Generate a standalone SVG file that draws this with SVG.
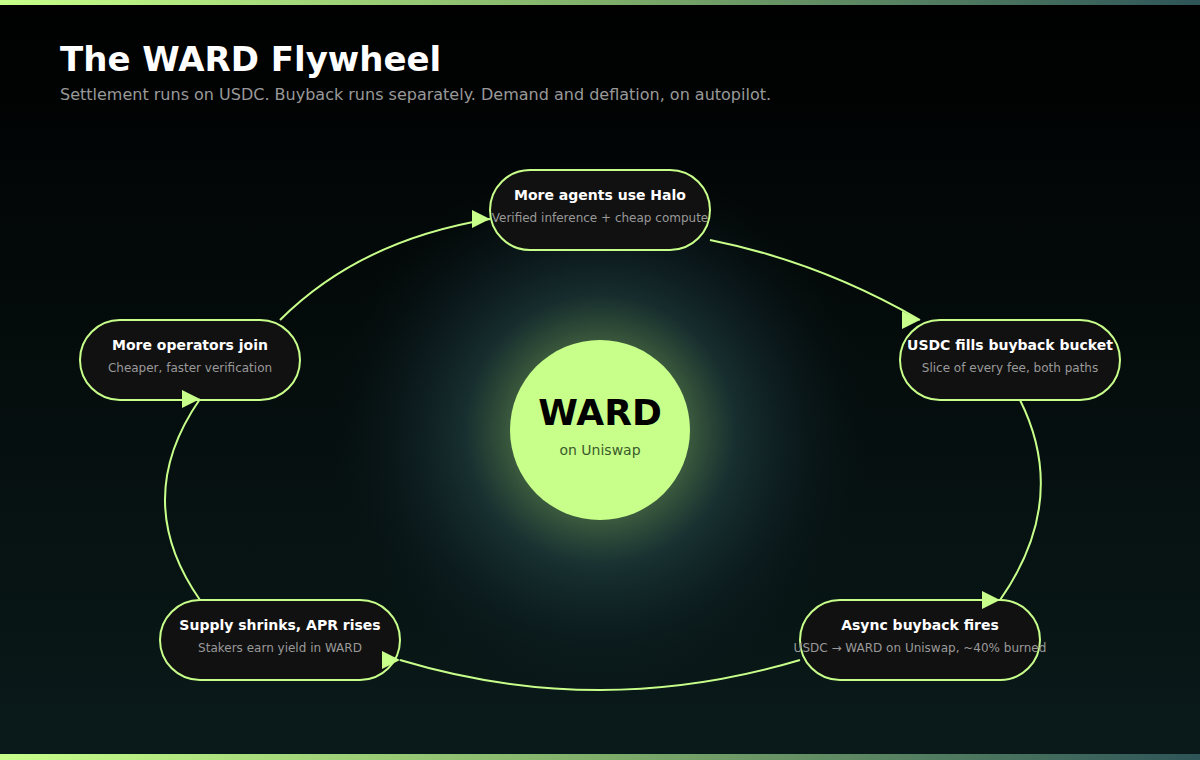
<svg xmlns="http://www.w3.org/2000/svg" width="1200" height="760" viewBox="0 0 1200 760">
<defs>
<linearGradient id="bg" x1="0" y1="0" x2="0" y2="1"><stop offset="0" stop-color="#000000"/><stop offset="1" stop-color="#0a1a1a"/></linearGradient>
<linearGradient id="bar" x1="0" y1="0" x2="1" y2="0"><stop offset="0" stop-color="#c8ff8a"/><stop offset="0.5" stop-color="#7fae6a"/><stop offset="1" stop-color="#2e5458"/></linearGradient>
<radialGradient id="glow" cx="600" cy="430" r="270" gradientUnits="userSpaceOnUse"><stop offset="0.3" stop-color="#6a9a60" stop-opacity="0.6"/><stop offset="0.5" stop-color="#2a5050" stop-opacity="0.5"/><stop offset="0.72" stop-color="#173038" stop-opacity="0.35"/><stop offset="1" stop-color="#0a1a1a" stop-opacity="0"/></radialGradient>
<marker id="arr" markerWidth="18" markerHeight="18" refX="18" refY="9" orient="0" markerUnits="userSpaceOnUse"><path d="M0,0 L18,9 L0,18 Z" fill="#c8ff8a"/></marker>
<style>
.node rect{fill:#111111;stroke:#c8ff8a;stroke-width:2}
.t{font-family:"DejaVu Sans",sans-serif;font-weight:bold;font-size:14px;fill:#ffffff;text-anchor:middle}
.s{font-family:"DejaVu Sans",sans-serif;font-size:12px;fill:#999999;text-anchor:middle}
.conn path{fill:none;stroke:#c8ff8a;stroke-width:2;marker-end:url(#arr)}
</style>
</defs>
<rect width="1200" height="760" fill="url(#bg)"/>
<circle cx="600" cy="430" r="280" fill="url(#glow)"/>
<rect x="0" y="0" width="1200" height="5" fill="url(#bar)"/>
<rect x="0" y="754" width="1200" height="6" fill="url(#bar)"/>
<text x="60" y="71" font-family="DejaVu Sans, sans-serif" font-weight="bold" font-size="34" fill="#ffffff">The WARD Flywheel</text>
<text x="60" y="100" font-family="DejaVu Sans, sans-serif" font-size="16" fill="#999999">Settlement runs on USDC. Buyback runs separately. Demand and deflation, on autopilot.</text>
<g id="center">
<circle cx="600" cy="430" r="90" fill="#c8ff8a"/>
<text x="600" y="425" font-family="DejaVu Sans, sans-serif" font-weight="bold" font-size="36" fill="#000000" text-anchor="middle">WARD</text>
<text x="600" y="455" font-family="DejaVu Sans, sans-serif" font-size="14" fill="#3a5a2a" text-anchor="middle">on Uniswap</text>
</g>
<g class="node" id="n-agents"><rect x="490" y="170" width="220" height="80" rx="40"/><text class="t" x="600" y="200">More agents use Halo</text><text class="s" x="600" y="222">Verified inference + cheap compute</text></g>
<g class="node" id="n-usdc"><rect x="900" y="320" width="220" height="80" rx="40"/><text class="t" x="1010" y="350">USDC fills buyback bucket</text><text class="s" x="1010" y="372">Slice of every fee, both paths</text></g>
<g class="node" id="n-buyback"><rect x="800" y="600" width="240" height="80" rx="40"/><text class="t" x="920" y="630">Async buyback fires</text><text class="s" x="920" y="652">USDC → WARD on Uniswap, ~40% burned</text></g>
<g class="node" id="n-supply"><rect x="160" y="600" width="240" height="80" rx="40"/><text class="t" x="280" y="630">Supply shrinks, APR rises</text><text class="s" x="280" y="652">Stakers earn yield in WARD</text></g>
<g class="node" id="n-operators"><rect x="80" y="320" width="220" height="80" rx="40"/><text class="t" x="190" y="350">More operators join</text><text class="s" x="190" y="372">Cheaper, faster verification</text></g>
<g class="conn" id="connectors">
<path d="M280,320 Q360,240 490,219"/>
<path d="M710,240 Q820,262 920,320"/>
<path d="M1020,400 Q1070,500 1000,600"/>
<path d="M800,660 Q600,720 400,660"/>
<path d="M200,600 Q130,500 200,399"/>
</g>
</svg>
